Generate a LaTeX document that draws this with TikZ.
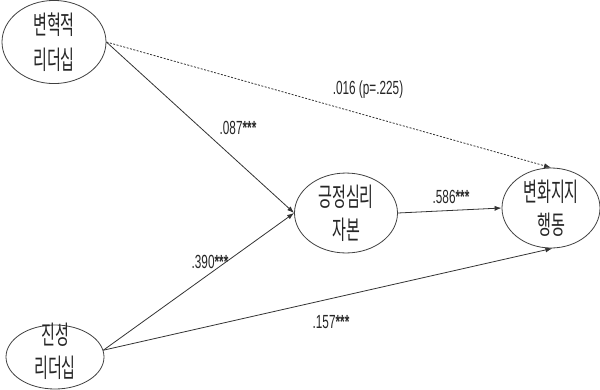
\documentclass[tikz,border=0pt]{standalone}
\usepackage{fontspec}
\usetikzlibrary{shapes.geometric,arrows.meta}
\newfontfamily\krfont[FakeStretch=0.58]{Noto Sans CJK KR}
\newfontfamily\numfont[FakeStretch=0.62]{Liberation Sans}
\newcommand{\sig}{{\bfseries***}}
\begin{document}
\begin{tikzpicture}[x=1pt,y=-1pt,
  ell/.style={draw=black!75, line width=0.8pt, ellipse, inner sep=0pt, align=center,
    font=\krfont\fontsize{26}{33}\selectfont, text=black!85},
  path/.style={draw=black!80, line width=0.8pt, -{Latex[length=7pt,width=5pt]}},
  dpath/.style={path, dash pattern=on 2pt off 1.5pt},
  coef/.style={font=\numfont\fontsize{19}{20}\selectfont, text=black!85, inner sep=0pt}]
\useasboundingbox (0,0) rectangle (600,389);
\node[ell, minimum width=104pt, minimum height=80pt] (tl) at (54,42) {변혁적\\[2pt]리더십};
\node[ell, minimum width=98pt, minimum height=64pt] (bl) at (55,357) {};
\node[ell, draw=none, fill=none] (blt) at (55,351) {진성\\리더십};
\node[ell, minimum width=103pt, minimum height=70pt] (mid) at (346,213) {긍정심리\\자본};
\node[ell, minimum width=98pt, minimum height=80pt] (dv) at (551,208) {변화지지\\행동};
\draw[dpath] (tl.east) -- (dv.north);
\draw[path] (tl.east) -- (mid.west);
\draw[path] (bl.8) -- (mid.west);
\draw[path] (bl.8) -- (dv.-88);
\draw[path] (mid.east) -- (dv.west);
\node[coef] (c1) at (368,90) {.016 (p=.225)};
\node[coef] (c2) at (238,128) {.087\sig};
\node[coef] (c3) at (210,262) {.390\sig};
\node[coef] (c4) at (451,197) {.586\sig};
\node[coef] (c5) at (331,322) {.157\sig};
\end{tikzpicture}
\end{document}
